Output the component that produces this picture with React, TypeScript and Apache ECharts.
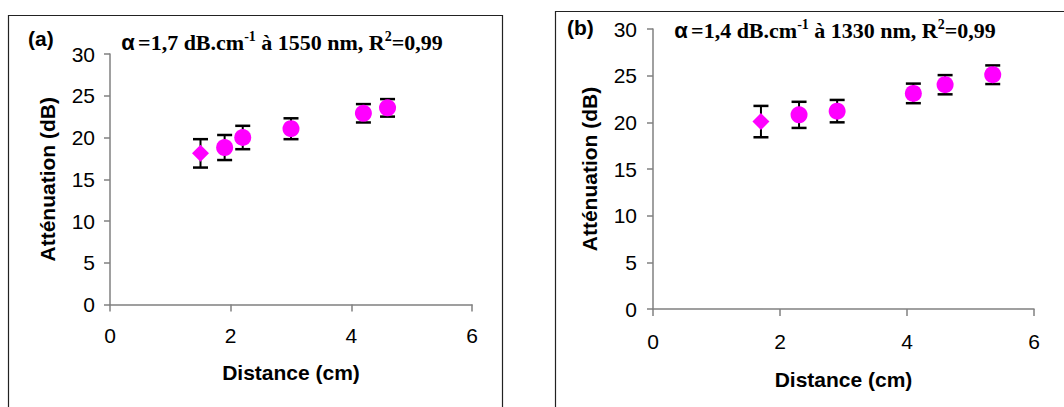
import React, { useEffect, useRef } from "react";
import * as echarts from "echarts";

// Panel (a): 1550 nm
const distA = [1.5, 1.9, 2.2, 3.0, 4.2, 4.6];
const attA = [18.1, 18.8, 20.0, 21.05, 22.9, 23.55];
const errA = [1.7, 1.5, 1.4, 1.25, 1.1, 1.05];

// Panel (b): 1330 nm
const distB = [1.7, 2.3, 2.9, 4.1, 4.6, 5.35];
const attB = [20.08, 20.8, 21.2, 23.1, 24.03, 25.1];
const errB = [1.68, 1.4, 1.2, 1.05, 1.03, 1.0];

const xTicks = { min: 0, max: 6, interval: 2 };
const yTicks = { min: 0, max: 30, interval: 5 };

const xName = "Distance (cm)";
const yName = "Atténuation (dB)";
const titleA = ["1,7", "1550"];
const titleB = ["1,4", "1330"];
const r2 = "0,99";

const MAGENTA = "#FF00FF";
const FONT = "'Liberation Sans', Arial, sans-serif";
const SERIF = "'Liberation Serif', 'Times New Roman', serif";

function errorRender(params: any, api: any) {
  const x = api.value(0);
  const lo = api.coord([x, api.value(1)]);
  const hi = api.coord([x, api.value(2)]);
  const hw = 7.5;
  const style = { stroke: "#000", lineWidth: 2.5 };
  return {
    type: "group",
    children: [
      { type: "line", shape: { x1: lo[0], y1: lo[1], x2: hi[0], y2: hi[1] }, style: { stroke: "#000", lineWidth: 2 } },
      { type: "line", shape: { x1: lo[0] - hw, y1: lo[1], x2: lo[0] + hw, y2: lo[1] }, style },
      { type: "line", shape: { x1: hi[0] - hw, y1: hi[1], x2: hi[0] + hw, y2: hi[1] }, style },
    ],
  };
}

function xAxisCfg(gridIndex: number, margin: number, nameGap: number) {
  return {
    type: "value",
    gridIndex,
    ...xTicks,
    name: xName,
    nameLocation: "middle",
    nameGap,
    nameTextStyle: { fontFamily: FONT, fontWeight: "bold", fontSize: 21, color: "#000" },
    axisLine: { show: true, onZero: false, lineStyle: { color: "#808080", width: 1.5 } },
    axisTick: { show: true, inside: false, length: 7, lineStyle: { color: "#808080", width: 1.5 } },
    axisLabel: { margin, fontFamily: FONT, fontSize: 21, color: "#000" },
    splitLine: { show: false },
  };
}

function yAxisCfg(gridIndex: number, margin: number, nameGap: number) {
  return {
    type: "value",
    gridIndex,
    ...yTicks,
    name: yName,
    nameLocation: "middle",
    nameGap,
    nameTextStyle: { fontFamily: FONT, fontWeight: "bold", fontSize: 21, color: "#000" },
    axisLine: { show: true, onZero: false, lineStyle: { color: "#808080", width: 1.5 } },
    axisTick: { show: true, inside: false, length: 6, lineStyle: { color: "#808080", width: 1.5 } },
    axisLabel: { margin, fontFamily: FONT, fontSize: 21, color: "#000" },
    splitLine: { show: false },
  };
}

function seriesFor(idx: number, dist: number[], att: number[], err: number[]) {
  return [
    {
      type: "custom",
      xAxisIndex: idx,
      yAxisIndex: idx,
      renderItem: errorRender,
      encode: { x: 0, y: [1, 2] },
      data: dist.map((d, i) => [d, att[i] - err[i], att[i] + err[i]]),
      z: 2,
    },
    {
      type: "scatter",
      xAxisIndex: idx,
      yAxisIndex: idx,
      symbol: "diamond",
      symbolSize: 17,
      itemStyle: { color: MAGENTA, opacity: 1 },
      data: [[dist[0], att[0]]],
      z: 3,
    },
    {
      type: "scatter",
      xAxisIndex: idx,
      yAxisIndex: idx,
      symbol: "circle",
      symbolSize: 17,
      itemStyle: { color: MAGENTA, opacity: 1 },
      data: dist.slice(1).map((d, i) => [d, att[i + 1]]),
      z: 3,
    },
  ];
}

function titleText(t: string[]) {
  return `{a|α} {b|=${t[0]} dB.cm}{s|-1}{b| à ${t[1]} nm, R}{s|2}{b|=${r2}}`;
}

const richTitle = {
  a: { fontFamily: FONT, fontWeight: "bold", fontSize: 22, fill: "#000", lineHeight: 26, verticalAlign: "middle" },
  b: { fontFamily: SERIF, fontWeight: "bold", fontSize: 22, fill: "#000", lineHeight: 26, verticalAlign: "middle" },
  s: { fontFamily: SERIF, fontWeight: "bold", fontSize: 14, fill: "#000", lineHeight: 14, verticalAlign: "top" },
};

export default function App() {
  const ref = useRef<HTMLDivElement>(null);
  useEffect(() => {
    if (!ref.current) return;
    const chart = echarts.init(ref.current, null, { renderer: "svg" });
    chart.setOption({
      animation: false,
      backgroundColor: "#fff",
      grid: [
        { left: 110, top: 54, width: 362, height: 250.5 },
        { left: 653, top: 29, width: 381, height: 280 },
      ],
      xAxis: [xAxisCfg(0, 20, 57), xAxisCfg(1, 22, 60)],
      yAxis: [yAxisCfg(0, 15, 52), yAxisCfg(1, 16, 53)],
      series: [...seriesFor(0, distA, attA, errA), ...seriesFor(1, distB, attB, errB)],
      graphic: [
        { type: "rect", shape: { x: 8.5, y: 15.5, width: 494, height: 420 }, style: { fill: "none", stroke: "#222", lineWidth: 1.2 }, z: 0 },
        { type: "rect", shape: { x: 555.5, y: 11.5, width: 600, height: 420 }, style: { fill: "none", stroke: "#222", lineWidth: 1.2 }, z: 0 },
        { type: "text", left: 28, top: 28, style: { text: "(a)", font: `bold 21px ${FONT}`, fill: "#000" } },
        { type: "text", left: 567, top: 17, style: { text: "(b)", font: `bold 21px ${FONT}`, fill: "#000" } },
        { type: "text", x: 282, y: 42, style: { text: titleText(titleA), rich: richTitle, align: "center", verticalAlign: "middle" } },
        { type: "text", x: 835, y: 30, style: { text: titleText(titleB), rich: richTitle, align: "center", verticalAlign: "middle" } },
      ],
    });
    return () => chart.dispose();
  }, []);
  return <div ref={ref} style={{ position: "absolute", left: 0, top: 0, width: 1064, height: 407 }} />;
}
